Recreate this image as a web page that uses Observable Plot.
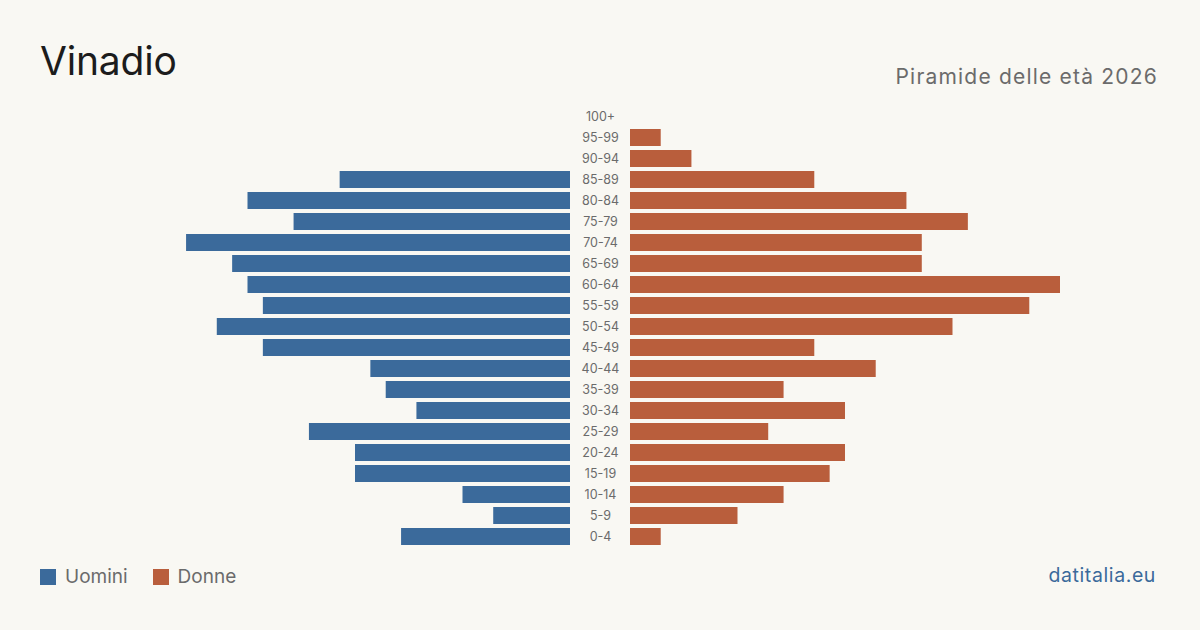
<!DOCTYPE html>
<html lang="it">
<head>
<meta charset="utf-8">
<script src="https://cdn.jsdelivr.net/npm/d3@7"></script>
<script src="https://cdn.jsdelivr.net/npm/@observablehq/plot@0.6"></script>
<style>
  html, body { margin: 0; padding: 0; background: #f9f8f3; }
  #page { position: relative; width: 1200px; height: 630px; background: #f9f8f3; font-family: Inter, "Noto Sans", sans-serif; overflow: hidden; }
  #title { position: absolute; left: 40px; top: 41px; font-size: 39px; line-height: 1; color: #1c1c1c; font-weight: 400; letter-spacing: -0.2px; }
  #subtitle { position: absolute; right: 42px; top: 66px; font-size: 21px; line-height: 1; color: #6b6b6b; letter-spacing: 1.2px; }
  #chart { position: absolute; left: 0; top: 101px; }
  #legend { position: absolute; left: 40px; top: 567px; display: flex; align-items: center; font-size: 19px; color: #6b6b6b; line-height: 1; }
  #legend .sw { width: 16px; height: 16px; display: inline-block; margin-right: 9px; }
  #legend .item { display: flex; align-items: center; margin-right: 25px; }
  #source { position: absolute; right: 44px; top: 566px; font-size: 19.5px; color: #3b6a9b; line-height: 1; letter-spacing: 0.6px; }
</style>
</head>
<body>
<div id="page">
  <div id="title">Vinadio</div>
  <div id="subtitle">Piramide delle età 2026</div>
  <div id="chart"></div>
  <div id="legend"></div>
  <div id="source">datitalia.eu</div>
</div>
<script>
// Age classes, from oldest to youngest (top to bottom)
const ageClasses = ["100+", "95-99", "90-94", "85-89", "80-84", "75-79", "70-74", "65-69",
  "60-64", "55-59", "50-54", "45-49", "40-44", "35-39", "30-34", "25-29",
  "20-24", "15-19", "10-14", "5-9", "0-4"];

// Residents per age class
const men   = [0, 0, 0, 15, 21, 18, 25, 22, 21, 20, 23, 20, 13, 12, 10, 17, 14, 14, 7, 5, 11];
const women = [0, 2, 4, 12, 18, 22, 19, 19, 28, 26, 21, 12, 16, 10, 14, 9, 14, 13, 10, 7, 2];

const sexes = ["Uomini", "Donne"];
const colors = ["#3b6a9b", "#b95e3c"];

const rows = ageClasses.map((age, i) => ({age, men: men[i], women: women[i]}));
const maxValue = d3.max([...men, ...women]);

const chart = Plot.plot({
  width: 1200,
  height: 460,
  marginLeft: 170,
  marginRight: 170,
  marginTop: 5,
  marginBottom: 14,
  x: {domain: [-maxValue, maxValue], axis: null},
  y: {domain: ageClasses, axis: null, paddingInner: 0.19, paddingOuter: 0.095},
  style: {background: "transparent", fontFamily: "Inter, 'Noto Sans', sans-serif"},
  marks: [
    Plot.barX(rows, {y: "age", x1: 0, x2: d => -d.men, dx: -30, fill: colors[0]}),
    Plot.barX(rows, {y: "age", x1: 0, x2: "women", dx: 30, fill: colors[1]}),
    Plot.text(rows, {y: "age", x: 0, text: "age", fill: "#6b6b6b", fontSize: 12.5, textAnchor: "middle"})
  ]
});
document.getElementById("chart").appendChild(chart);

// Legend
const legend = document.getElementById("legend");
sexes.forEach((s, i) => {
  const item = document.createElement("span");
  item.className = "item";
  const sw = document.createElement("span");
  sw.className = "sw";
  sw.style.background = colors[i];
  item.appendChild(sw);
  item.appendChild(document.createTextNode(s));
  legend.appendChild(item);
});
</script>
</body>
</html>
